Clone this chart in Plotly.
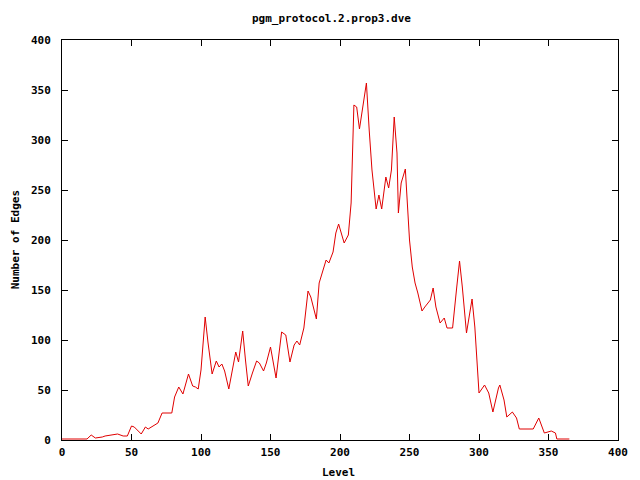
import plotly.graph_objects as go

title_text = "pgm_protocol.2.prop3.dve"
x_label = "Level"
y_label = "Number of Edges"

levels = [0, 18, 21, 24, 29, 31, 40, 44, 47, 50, 52, 57, 60, 62, 69, 72, 79, 81, 84, 87,
          91, 94, 96, 98, 100, 103, 105, 108, 111, 113, 115, 117, 120, 123, 125, 127, 130,
          132, 134, 137, 140, 142, 145, 147, 150, 154, 158, 161, 164, 167, 169, 171, 174,
          177, 179, 183, 185, 190, 192, 195, 197, 199, 203, 206, 208, 210, 212, 214, 217,
          219, 221, 223, 226, 228, 230, 233, 235, 237, 239, 241, 242, 244, 247, 248, 250,
          252, 254, 256, 259, 261, 265, 267, 269, 272, 275, 277, 281, 284, 286, 288, 291,
          295, 297, 300, 304, 307, 310, 314, 315, 318, 320, 324, 327, 329, 339, 343, 345,
          347, 352, 355, 356, 365]
edges = [1, 1, 5, 2, 3, 4, 6, 4, 4, 14, 13, 6, 13, 11, 17, 27, 27, 43, 53, 46,
         66, 54, 53, 51, 70, 123, 98, 66, 79, 73, 76, 69, 51, 72, 88, 78, 109,
         80, 54, 67, 79, 77, 69, 77, 93, 62, 108, 105, 78, 95, 99, 95, 112,
         149, 143, 121, 157, 180, 177, 188, 207, 216, 197, 205, 237, 335, 333, 311, 340,
         357, 310, 270, 231, 245, 231, 263, 252, 270, 323, 287, 227, 257, 271, 250, 200,
         173, 157, 147, 129, 133, 140, 152, 133, 117, 122, 112, 112, 153, 179, 153, 107,
         141, 113, 47, 55, 47, 28, 52, 55, 40, 23, 28, 22, 11, 11, 22, 15,
         7, 9, 7, 1, 1]

x_ticks = [0, 50, 100, 150, 200, 250, 300, 350, 400]
y_ticks = [0, 50, 100, 150, 200, 250, 300, 350, 400]

font = dict(family="DejaVu Sans Mono", size=11, color="black", weight="bold")

fig = go.Figure()
fig.add_trace(go.Scatter(x=levels, y=edges, mode="lines",
                         line=dict(color="#e00000", width=1), showlegend=False,
                         hoverinfo="skip"))

axis_common = dict(showline=True, linecolor="black", linewidth=1, mirror="ticks",
                   ticks="inside", ticklen=6, tickcolor="black", tickwidth=1,
                   showgrid=False, zeroline=False, tickfont=font)

# page body has an 8px margin, so the figure is sized/offset to compensate
fig.update_layout(
    width=632, height=472,
    margin=dict(l=54, r=20, t=32, b=40),
    paper_bgcolor="white", plot_bgcolor="white",
    font=font,
    xaxis=dict(range=[0, 400], tickvals=x_ticks, ticktext=[str(v) for v in x_ticks],
               ticklabelstandoff=2, **axis_common),
    yaxis=dict(range=[0, 400], tickvals=y_ticks, ticktext=[str(v) for v in y_ticks],
               ticklabelstandoff=8, **axis_common),
    annotations=[
        dict(text=title_text, xref="paper", yref="paper", x=0.484, y=1.055,
             xanchor="center", yanchor="middle", showarrow=False, font=font),
        dict(text=x_label, xref="paper", yref="paper", x=0.498, y=-0.08,
             xanchor="center", yanchor="middle", showarrow=False, font=font),
        dict(text=y_label, xref="paper", yref="paper", x=-0.084, y=0.5,
             xanchor="center", yanchor="middle", showarrow=False, font=font,
             textangle=-90),
    ],
)

fig.write_html("out.html")
